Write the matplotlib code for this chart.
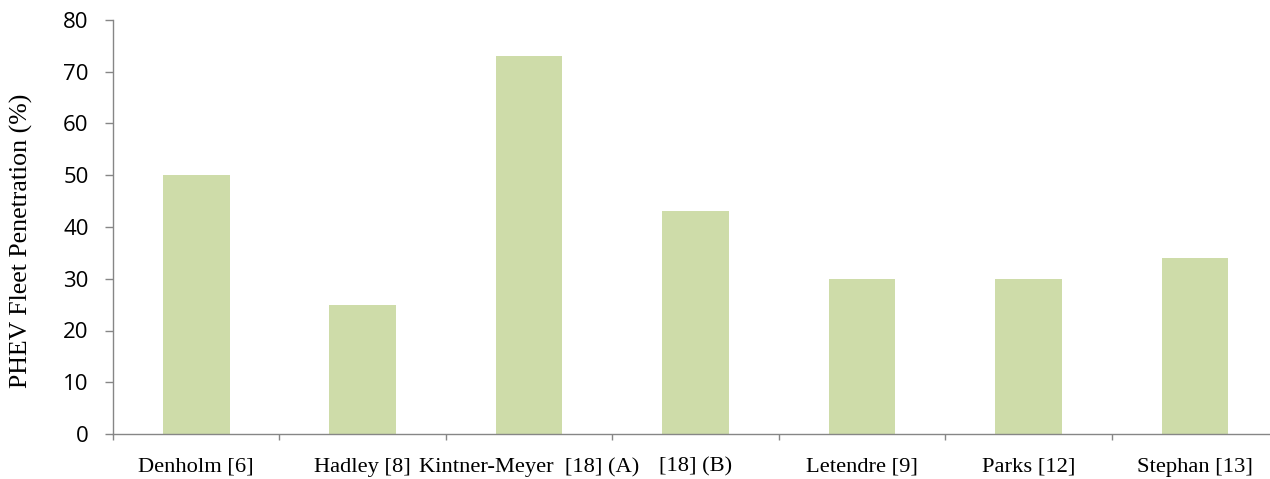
import matplotlib
matplotlib.use("Agg")
import matplotlib.pyplot as plt
import numpy as np

categories = ["Denholm [6]", "Hadley [8]", "Kintner-Meyer  [18] (A)", "[18] (B)",
              "Letendre [9]", "Parks [12]", "Stephan [13]"]
values = [50, 25, 73, 43, 30, 30, 34]
yticks = [0, 10, 20, 30, 40, 50, 60, 70, 80]

W, H = 1270, 479
fig = plt.figure(figsize=(W / 100, H / 100), dpi=100)
left, right, top, bottom = 113, 1278, 20, 434
ax = fig.add_axes([left / W, (H - bottom) / H, (right - left) / W, (bottom - top) / H])

x = np.arange(len(categories))
ax.bar(x, values, width=0.4, color="#CEDCA9", edgecolor="none")

ax.set_xlim(-0.5, len(categories) - 0.5)
ax.set_ylim(0, 80)

gray = "#868686"
for s in ["top", "right"]:
    ax.spines[s].set_visible(False)
for s in ["left", "bottom"]:
    ax.spines[s].set_color(gray)
    ax.spines[s].set_linewidth(1.0)

ax.set_yticks(yticks)
ax.set_yticklabels([str(v) for v in yticks], family="Open Sans", fontsize=16)
ax.tick_params(axis="y", direction="out", length=5.5, width=1.0, color=gray, pad=12)

ax.set_xticks(x)
ax.set_xticklabels(categories, family="Liberation Serif", fontsize=16.2)
ax.set_xticks(np.arange(len(categories) + 1) - 0.5, minor=True)
ax.tick_params(axis="x", which="major", length=0, pad=17)
ax.tick_params(axis="x", which="minor", direction="out", length=4.5, width=1.0, color=gray)

ax.set_ylabel("PHEV Fleet Penetration (%)", family="Liberation Serif", fontsize=18.6)
ax.yaxis.set_label_coords(33 / W, (H - 241) / H, transform=fig.transFigure)

fig.savefig("out.png", dpi=100)
